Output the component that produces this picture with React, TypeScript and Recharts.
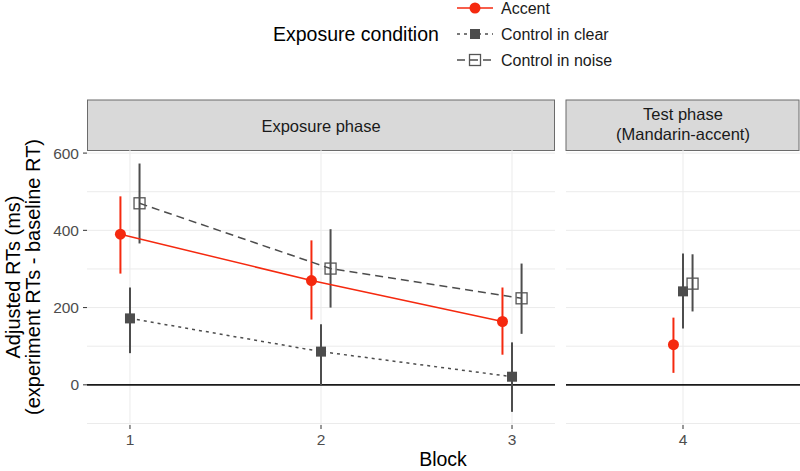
import React from 'react'
import {
  ScatterChart,
  Scatter,
  XAxis,
  YAxis,
  ErrorBar,
  ReferenceLine,
  CartesianGrid,
} from 'recharts'

const exposureBlocks = [1, 2, 3]
const testBlocks = [4]
const conditions = ['Accent', 'Control in clear', 'Control in noise']

// exposure phase: one value per block
const accentMean = [390, 270, 164]
const accentLow = [288, 169, 78]
const accentHigh = [488, 374, 252]
const clearMean = [172, 86, 21]
const clearLow = [82, -2, -70]
const clearHigh = [252, 157, 110]
const noiseMean = [470, 301, 224]
const noiseLow = [366, 200, 132]
const noiseHigh = [573, 403, 314]

// test phase: one value per condition (accent, clear, noise)
const testMean = [104, 242, 262]
const testLow = [31, 146, 190]
const testHigh = [174, 340, 338]

const yTicks = [0, 200, 400, 600]
const yMinor = [-100, 100, 300, 500]
const dodge = [-0.05, 0, 0.05]

const RED = '#f5290f'
const DARK = '#4d4d4d'
const FONT = "'Liberation Sans', Arial, Helvetica, sans-serif"
const Y_DOMAIN: [number, number] = [-104, 608]

const seriesStyle = [
  { color: RED, dash: undefined as string | undefined, kind: 'circle' },
  { color: DARK, dash: '3 4', kind: 'square' },
  { color: DARK, dash: '8 5', kind: 'open' },
]

type Row = { x: number; y: number; err: [number, number] }

function rows(xs: number[], mean: number[], low: number[], high: number[], shift: number): Row[] {
  return xs.map((b, i) => ({
    x: b + shift,
    y: mean[i],
    err: [mean[i] - low[i], high[i] - mean[i]],
  }))
}

const exposureData = [
  rows(exposureBlocks, accentMean, accentLow, accentHigh, dodge[0]),
  rows(exposureBlocks, clearMean, clearLow, clearHigh, dodge[1]),
  rows(exposureBlocks, noiseMean, noiseLow, noiseHigh, dodge[2]),
]

const testData = conditions.map((_, k) =>
  rows(testBlocks, [testMean[k]], [testLow[k]], [testHigh[k]], dodge[k])
)

function Marker({ kind, cx, cy, color }: { kind: string; cx: number; cy: number; color: string }) {
  if (cx == null || cy == null) return null
  if (kind === 'circle') return <circle cx={cx} cy={cy} r={5.5} fill={color} />
  if (kind === 'square') return <rect x={cx - 5} y={cy - 5} width={10} height={10} fill={color} />
  return (
    <rect x={cx - 5.5} y={cy - 5.5} width={11} height={11} fill="none" stroke="#555" strokeWidth={1.3} />
  )
}

interface PanelProps {
  width: number
  domain: [number, number]
  ticks: number[]
  showY: boolean
  dataSets: Row[][]
  connect: boolean
}

// the plot area runs from y=150 to y=425 on the page; the chart starts 10px higher
function Panel({ width, domain, ticks, showY, dataSets, connect }: PanelProps) {
  return (
    <ScatterChart width={width} height={331} margin={{ top: 10, right: 0, bottom: 0, left: 0 }}>
      <CartesianGrid
        stroke="#ebebeb"
        horizontalValues={[...yMinor, ...yTicks]}
        verticalValues={ticks}
      />
      <XAxis
        type="number"
        dataKey="x"
        domain={domain}
        ticks={ticks}
        interval={0}
        allowDataOverflow
        axisLine={false}
        tickLine={{ stroke: '#333' }}
        tickSize={4}
        tickMargin={5}
        height={46}
        tick={{ fill: DARK, fontSize: 15.5, fontFamily: FONT }}
      />
      <YAxis
        type="number"
        dataKey="y"
        domain={Y_DOMAIN}
        ticks={yTicks}
        interval={0}
        allowDataOverflow
        hide={!showY}
        width={87}
        axisLine={false}
        tickLine={{ stroke: '#333' }}
        tickSize={4}
        tickMargin={4}
        tick={{ fill: DARK, fontSize: 15.5, fontFamily: FONT }}
      />
      <ReferenceLine y={0} stroke="#1a1a1a" strokeWidth={1.8} />
      {dataSets.map((d, k) => {
        const s = seriesStyle[k]
        return (
          <Scatter
            key={conditions[k]}
            name={conditions[k]}
            data={d}
            fill={s.color}
            isAnimationActive={false}
            line={
              connect
                ? { stroke: s.color, strokeWidth: 1.5, strokeDasharray: s.dash, fill: 'none' }
                : false
            }
            shape={(p: any) => <Marker kind={s.kind} cx={p.cx} cy={p.cy} color={s.color} />}
          >
            <ErrorBar dataKey="err" direction="y" width={0} stroke={s.color} strokeWidth={2} />
          </Scatter>
        )
      })}
    </ScatterChart>
  )
}

function LegendKey({ y, k }: { y: number; k: number }) {
  const s = seriesStyle[k]
  return (
    <g>
      <line x1={457} x2={493} y1={y} y2={y} stroke={s.color} strokeWidth={1.5} strokeDasharray={s.dash} />
      <Marker kind={s.kind} cx={475} cy={y} color={s.color} />
      <text x={501} y={y} dominantBaseline="central" fontSize={16} fill="#1a1a1a">
        {conditions[k]}
      </text>
    </g>
  )
}

export default function App() {
  const legendY = [8, 34, 60]
  return (
    <div
      style={{
        position: 'absolute',
        left: 0,
        top: 0,
        width: 800,
        height: 471,
        background: '#fff',
        fontFamily: FONT,
        overflow: 'hidden',
      }}
    >
      <svg width={800} height={471} style={{ position: 'absolute', left: 0, top: 0 }} fontFamily={FONT}>
        <text x={273} y={34} dominantBaseline="central" fontSize={19.5} fill="#000">
          Exposure condition
        </text>
        {conditions.map((c, k) => (
          <LegendKey key={c} y={legendY[k]} k={k} />
        ))}
        <rect x={87.5} y={100} width={467} height={50.5} fill="#d9d9d9" stroke="#6b6b6b" />
        <text x={321} y={126} textAnchor="middle" dominantBaseline="central" fontSize={16.5} fill="#1a1a1a">
          Exposure phase
        </text>
        <rect x={566} y={100} width={233} height={50.5} fill="#d9d9d9" stroke="#6b6b6b" />
        <text x={683} y={114} textAnchor="middle" dominantBaseline="central" fontSize={16.5} fill="#1a1a1a">
          Test phase
        </text>
        <text x={683} y={134} textAnchor="middle" dominantBaseline="central" fontSize={16.5} fill="#1a1a1a">
          (Mandarin-accent)
        </text>
        <text
          x={13}
          y={277}
          transform="rotate(-90 13 277)"
          textAnchor="middle"
          dominantBaseline="central"
          fontSize={20}
          fill="#000"
        >
          Adjusted RTs (ms)
        </text>
        <text
          x={33}
          y={277}
          transform="rotate(-90 33 277)"
          textAnchor="middle"
          dominantBaseline="central"
          fontSize={20}
          fill="#000"
        >
          (experiment RTs - baseline RT)
        </text>
        <text x={443} y={459} textAnchor="middle" dominantBaseline="central" fontSize={19.5} fill="#000">
          Block
        </text>
      </svg>
      <div style={{ position: 'absolute', left: 0, top: 140 }}>
        <Panel
          width={555}
          domain={[0.775, 3.225]}
          ticks={exposureBlocks}
          showY
          dataSets={exposureData}
          connect
        />
      </div>
      <div style={{ position: 'absolute', left: 566, top: 140 }}>
        <Panel
          width={234}
          domain={[3.3875, 4.6125]}
          ticks={testBlocks}
          showY={false}
          dataSets={testData}
          connect={false}
        />
      </div>
    </div>
  )
}
